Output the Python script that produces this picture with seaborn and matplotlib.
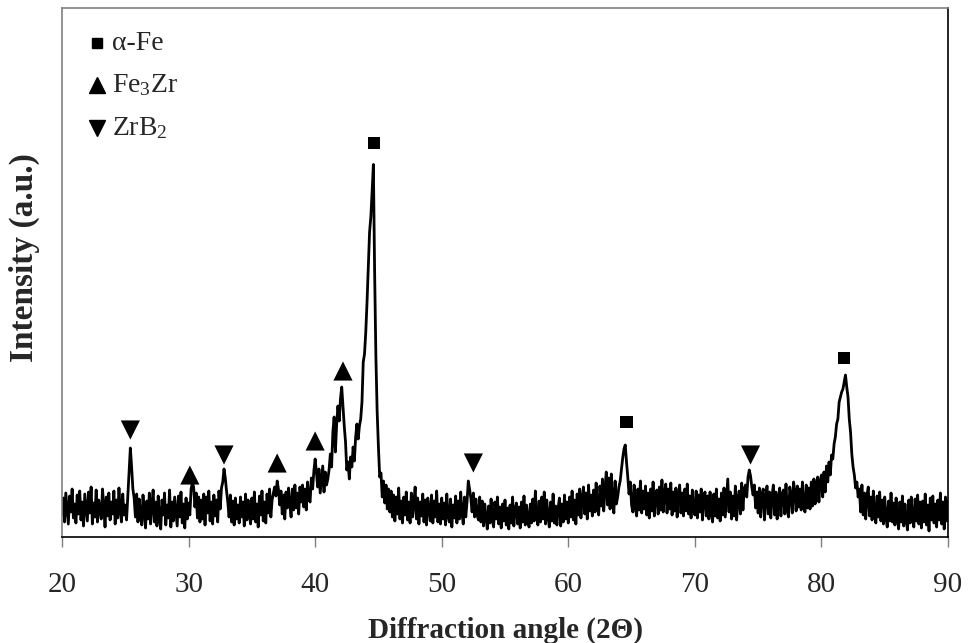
import numpy as np
import pandas as pd
import matplotlib
matplotlib.use("Agg")
import matplotlib.pyplot as plt
import seaborn as sns

# ---- data -------------------------------------------------------------
two_theta_start, two_theta_end, two_theta_step = 20.0, 90.0, 0.1

intensity = [
    # 20
    44, 78, 30, 88, 56, 26, 82, 50, 96, 38,
    66, 28, 84, 46, 92, 34, 70, 22, 86, 58,
    32, 90, 48, 100, 26, 68, 40, 94, 30, 74,
    54, 36, 96, 62, 20, 80, 42, 88, 34, 70,
    46, 92, 26, 74, 38, 98, 52, 30, 86, 44,
    # 25
    64, 34, 80, 130, 178, 140, 96, 78, 40, 86,
    30, 76, 44, 24, 84, 48, 18, 72, 36, 88,
    26, 62, 94, 30, 70, 22, 82, 40, 16, 74,
    44, 88, 24, 64, 38, 94, 20, 70, 32, 80,
    52, 22, 82, 40, 90, 28, 66, 18, 78, 36,
    # 30
    68, 44, 96, 108, 100, 60, 88, 38, 80, 30,
    74, 36, 86, 24, 80, 48, 92, 32, 70, 26,
    84, 42, 74, 30, 92, 56, 98, 110, 136, 118,
    92, 70, 40, 84, 30, 72, 24, 78, 36, 64,
    28, 80, 40, 70, 22, 86, 34, 74, 44, 26,
    # 35
    78, 36, 90, 30, 66, 20, 82, 44, 92, 32,
    70, 28, 86, 48, 96, 40, 74, 88, 100, 82,
    112, 96, 64, 92, 46, 84, 36, 90, 58, 98,
    66, 40, 96, 54, 104, 58, 88, 46, 100, 70,
    104, 60, 96, 54, 110, 76, 70, 118, 96, 132,
    # 40
    156, 130, 100, 136, 88, 116, 142, 90, 130, 104,
    116, 134, 166, 140, 210, 240, 170, 226, 262, 232,
    276, 300, 262, 222, 190, 134, 150, 116, 160, 140,
    180, 152, 200, 226, 196, 222, 236, 270, 350, 366,
    410, 470, 540, 610, 640, 690, 745, 530, 360, 250,
    # 45
    180, 120, 128, 80, 112, 68, 104, 56, 96, 50,
    92, 40, 84, 32, 80, 46, 98, 36, 72, 28,
    80, 44, 90, 34, 70, 28, 88, 40, 68, 100,
    36, 78, 26, 70, 42, 86, 30, 74, 24, 78,
    56, 32, 84, 28, 72, 40, 92, 30, 66, 26,
    # 50
    78, 36, 68, 24, 86, 42, 30, 76, 20, 64,
    38, 82, 28, 72, 36, 90, 48, 26, 80, 40,
    70, 112, 96, 78, 50, 88, 40, 76, 44, 34,
    80, 30, 72, 22, 66, 38, 16, 62, 28, 76,
    34, 20, 70, 36, 80, 26, 60, 18, 66, 32,
    # 55
    74, 24, 58, 16, 64, 28, 80, 22, 54, 68,
    26, 60, 18, 70, 30, 82, 24, 64, 36, 20,
    66, 28, 76, 32, 92, 40, 24, 72, 30, 80,
    36, 90, 26, 74, 40, 20, 70, 32, 86, 28,
    62, 24, 58, 78, 22, 66, 30, 84, 36, 70,
    # 60
    28, 80, 40, 92, 34, 74, 26, 86, 44, 96,
    38, 78, 100, 46, 88, 36, 104, 52, 84, 42,
    94, 50, 108, 58, 44, 102, 62, 116, 52, 96,
    130, 64, 118, 56, 126, 72, 48, 112, 66, 80,
    100, 112, 136, 158, 176, 184, 150, 120, 86, 110,
    # 65
    64, 50, 104, 60, 42, 96, 54, 112, 48, 92,
    56, 102, 44, 88, 38, 96, 52, 110, 42, 84,
    94, 46, 100, 54, 114, 50, 88, 106, 48, 96,
    56, 108, 44, 90, 52, 98, 40, 84, 104, 48,
    88, 42, 96, 52, 106, 46, 82, 38, 94, 54,
    # 70
    44, 92, 38, 84, 50, 96, 34, 78, 90, 42,
    82, 36, 90, 48, 30, 86, 42, 96, 38, 76,
    32, 88, 44, 98, 40, 78, 116, 50, 90, 36,
    82, 42, 102, 34, 76, 92, 46, 108, 54, 96,
    104, 80, 120, 134, 122, 100, 84, 104, 58, 90,
    # 75
    48, 98, 40, 84, 96, 34, 78, 102, 46, 90,
    38, 82, 104, 44, 90, 36, 76, 98, 42, 86,
    94, 46, 106, 54, 40, 100, 84, 48, 110, 90,
    52, 102, 60, 96, 54, 110, 62, 50, 104, 58,
    98, 56, 110, 62, 116, 66, 106, 120, 70, 112,
    # 80
    124, 80, 130, 90, 142, 110, 150, 124, 164, 156,
    186, 200, 226, 236, 270, 280, 290, 296, 310, 324,
    300, 280, 236, 210, 166, 140, 124, 98, 110, 80,
    96, 50, 104, 44, 88, 36, 84, 100, 42, 80,
    34, 92, 48, 28, 82, 40, 90, 32, 74, 26,
    # 85
    80, 38, 20, 72, 32, 88, 30, 68, 24, 78,
    36, 16, 70, 30, 82, 22, 66, 34, 14, 74,
    28, 80, 36, 20, 76, 32, 84, 26, 70, 18,
    72, 30, 86, 24, 64, 12, 78, 34, 82, 28,
    66, 20, 74, 34, 88, 26, 70, 16, 80, 32,
    # 90
    72,
]

# phase markers (peak position, marker height)
fe_pos = [44.65, 64.6, 81.8]
fe_h = [788, 230, 358]
fe3zr_pos = [30.1, 37.0, 40.0, 42.2]
fe3zr_h = [124, 148, 192, 332]
zrb2_pos = [25.4, 32.8, 52.5, 74.4]
zrb2_h = [214, 164, 148, 164]

legend_labels = ["α-Fe", "Fe$_3$Zr", "ZrB$_2$"]
x_ticks = [20, 30, 40, 50, 60, 70, 80, 90]

# ---- figure -----------------------------------------------------------
sns.set_theme(style="white")
plt.rcParams["font.family"] = ["Liberation Serif", "DejaVu Serif"]
plt.rcParams["mathtext.fontset"] = "custom"
plt.rcParams["mathtext.rm"] = "Liberation Serif"
plt.rcParams["mathtext.it"] = "Liberation Serif:italic"
plt.rcParams["mathtext.bf"] = "Liberation Serif:bold"

n = int(round((two_theta_end - two_theta_start) / two_theta_step)) + 1
df = pd.DataFrame({
    "two_theta": np.round(np.linspace(two_theta_start, two_theta_end, n), 2),
    "intensity": intensity,
})

fig = plt.figure(figsize=(9.68, 6.43), dpi=100)
ax = fig.add_axes([62 / 968, 1 - 537 / 643, (948 - 62) / 968, (537 - 8) / 643])

sns.lineplot(data=df, x="two_theta", y="intensity", ax=ax, color="black",
             linewidth=2.0, estimator=None, sort=False)

sns.scatterplot(x=fe_pos, y=fe_h, marker="s", s=80, color="black", ax=ax,
                edgecolor="none")
sns.scatterplot(x=fe3zr_pos, y=fe3zr_h, marker="^", s=190, color="black", ax=ax,
                edgecolor="none")
sns.scatterplot(x=zrb2_pos, y=zrb2_h, marker="v", s=190, color="black", ax=ax,
                edgecolor="none")

ax.set_xlim(20, 90)
ax.set_ylim(0, 1058)
ax.set_xticks(x_ticks)
ax.set_xticklabels([str(t) for t in x_ticks], fontsize=21)
ax.set_yticks([])
ax.tick_params(axis="x", direction="out", length=7, width=1, color="#7f7f7f",
               pad=18, bottom=True)

for side in ["top", "left", "right"]:
    ax.spines[side].set_color("#808080")
    ax.spines[side].set_linewidth(1.2)
ax.spines["right"].set_color("black")
ax.spines["bottom"].set_color("black")
ax.spines["bottom"].set_linewidth(1.2)

ax.set_xlabel("Diffraction angle (2Θ)", fontsize=21, fontweight="bold", labelpad=14)
ax.set_ylabel("")
fig.text(24 / 968, 1 - 258 / 643, "Intensity (a.u.)", rotation=90,
         fontsize=24, fontweight="bold", ha="center", va="center")

# legend drawn as markers + text in axes coordinates
leg_markers = ["s", "^", "v"]
leg_sizes = [7, 12, 12]
leg_y_px = [43, 85, 128]
for lab, mk, ms, ypx in zip(legend_labels, leg_markers, leg_sizes, leg_y_px):
    ya = (537 - ypx) / (537 - 8)
    ax.plot([(97 - 62) / 886], [ya], marker=mk, markersize=ms, color="black",
            transform=ax.transAxes, linestyle="none", clip_on=False)
    ax.text((112 - 62) / 886, ya, lab, transform=ax.transAxes, fontsize=20,
            va="center", ha="left")

fig.savefig("out.png", dpi=100)
